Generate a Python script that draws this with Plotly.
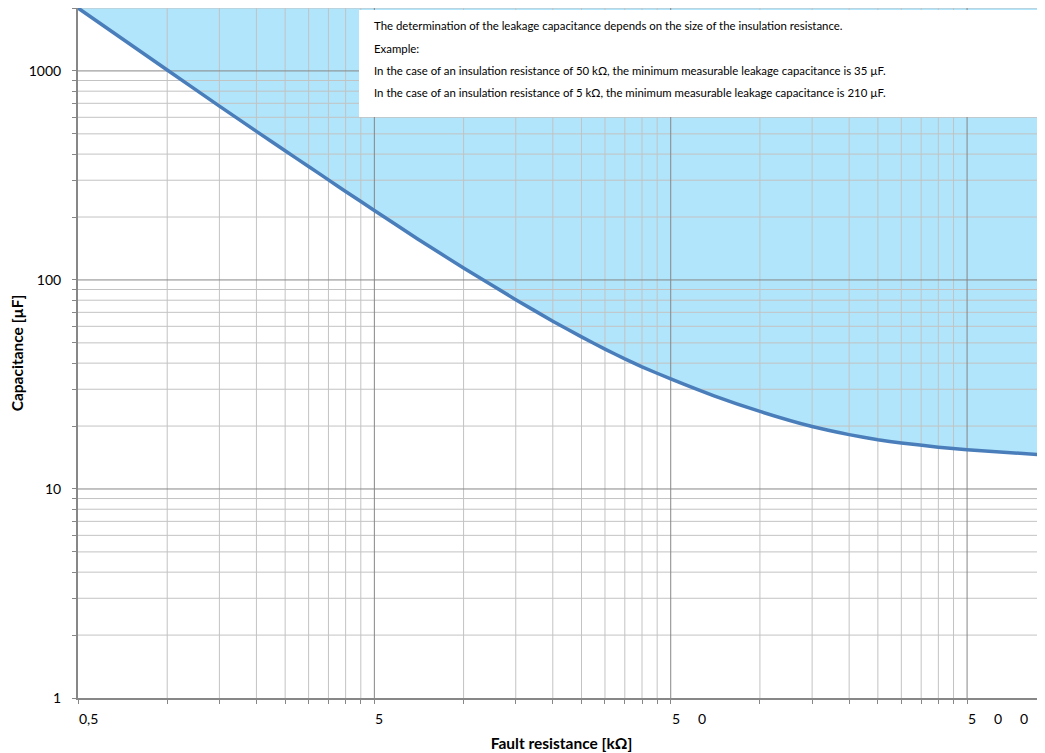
import math
import plotly.graph_objects as go

# ---- data ----
fault_resistance_kohm = [0.5, 1, 1.5, 2, 2.5, 3, 3.5, 4, 5, 7, 10, 15, 20, 25, 30, 35, 40, 50,
                         70, 100, 150, 200, 250, 300, 400, 500, 1000]
capacitance_uF = [2000, 1010, 679, 514, 415, 349, 301, 265, 215, 157, 114, 80.5, 63.5, 53.4,
                  46.7, 41.9, 38.4, 33.6, 27.9, 23.5, 19.9, 18.2, 17.2, 16.6, 15.85, 15.4, 14.4]

x_major_ticks = [0.5, 5, 50, 500]
x_major_labels = ["0,5", "5", "5\u00a0\u00a0\u00a0\u00a0\u00a00", "5\u00a0\u00a0\u00a0\u00a0\u00a00\u00a0\u00a0\u00a0\u00a0\u00a00"]
x_minor_ticks = [1, 1.5, 2, 2.5, 3, 3.5, 4, 4.5,
                 10, 15, 20, 25, 30, 35, 40, 45,
                 100, 150, 200, 250, 300, 350, 400, 450]
y_major_ticks = [1, 10, 100, 1000]
y_major_labels = ["1", "10", "100", "1000"]
y_minor_ticks = [2, 3, 4, 5, 6, 7, 8, 9,
                 20, 30, 40, 50, 60, 70, 80, 90,
                 200, 300, 400, 500, 600, 700, 800, 900, 2000]

x_min, x_max = 0.5, 916
y_min, y_max = 1, 2000

note_lines = [
    "The determination of the leakage capacitance depends on the size of the insulation resistance.",
    "Example:",
    "In the case of an insulation resistance of 50 k\u03a9, the minimum measurable leakage capacitance is 35 \u00b5F.",
    "In the case of an insulation resistance of 5 k\u03a9, the minimum measurable leakage capacitance is 210 \u00b5F.",
]

x_title = "Fault resistance [k\u03a9]"
y_title = "Capacitance [\u00b5F]"

# ---- styling ----
CURVE = "#4a7ebb"
FILL = "#b0e5fb"
MINOR_GRID = "#c3c3c3"
MAJOR_GRID = "#878787"
AXIS = "#878787"
FONT = "Lato"

# the page body has an 8px margin, so the figure is sized to end at the window edge
FIG_W, FIG_H = 1037, 745
M_L, M_R, M_T, M_B = 70, 0, 0, 55
PLOT_W = FIG_W - M_L - M_R
PLOT_H = FIG_H - M_T - M_B

fig = go.Figure()

# top boundary of the shaded region
fig.add_trace(go.Scatter(x=fault_resistance_kohm, y=[y_max] * len(fault_resistance_kohm),
                         mode="lines", line=dict(width=0), hoverinfo="skip", showlegend=False))
# shaded area above the curve
fig.add_trace(go.Scatter(x=fault_resistance_kohm, y=capacitance_uF, mode="lines",
                         line=dict(width=0, shape="spline", smoothing=0.4),
                         fill="tonexty", fillcolor=FILL, hoverinfo="skip", showlegend=False))


def vlines(vals):
    xs, ys = [], []
    for v in vals:
        xs += [v, v, None]
        ys += [y_min, y_max * 2, None]
    return xs, ys


def hlines(vals):
    xs, ys = [], []
    for v in vals:
        xs += [x_min, x_max * 2, None]
        ys += [v, v, None]
    return xs, ys


for vals, fn, col in [(x_minor_ticks, vlines, MINOR_GRID), (y_minor_ticks, hlines, MINOR_GRID),
                      (x_major_ticks[1:], vlines, MAJOR_GRID), (y_major_ticks[1:], hlines, MAJOR_GRID)]:
    xs, ys = fn(vals)
    fig.add_trace(go.Scatter(x=xs, y=ys, mode="lines", line=dict(color=col, width=1),
                             hoverinfo="skip", showlegend=False))

# the curve
fig.add_trace(go.Scatter(x=fault_resistance_kohm, y=capacitance_uF, mode="lines",
                         line=dict(color=CURVE, width=3.5, shape="spline", smoothing=0.4),
                         showlegend=False))

fig.update_xaxes(type="log", range=[math.log10(x_min), math.log10(x_max)],
                 showgrid=False, zeroline=False,
                 showline=True, linecolor=AXIS, linewidth=2,
                 tickvals=x_major_ticks, ticktext=x_major_labels, showticklabels=False,
                 ticks="outside", ticklen=4, tickcolor=AXIS, tickwidth=1,
                 minor=dict(tickvals=x_minor_ticks, ticks="outside", ticklen=4,
                            tickcolor=AXIS, showgrid=False),
                 title=dict(text="<b>" + x_title + "</b>", font=dict(size=15.5, color="#000000", family=FONT),
                            standoff=35),
                 automargin=False)
fig.update_yaxes(type="log", range=[math.log10(y_min), math.log10(y_max)],
                 showgrid=False, zeroline=False,
                 showline=True, linecolor=AXIS, linewidth=2,
                 tickvals=y_major_ticks, ticktext=y_major_labels,
                 ticks="outside", ticklen=4, tickcolor=AXIS, tickwidth=1,
                 ticklabelstandoff=8,
                 tickfont=dict(size=14, color="#000000", family=FONT),
                 minor=dict(tickvals=y_minor_ticks, ticks="outside", ticklen=4,
                            tickcolor=AXIS, showgrid=False),
                 title=dict(text="<b>" + y_title + "</b>", font=dict(size=15.5, color="#000000", family=FONT),
                            standoff=5),
                 automargin=False)

# x tick labels (left-aligned at their ticks, as in the reference)
for v, lab in zip(x_major_ticks, x_major_labels):
    fig.add_annotation(x=math.log10(v), y=-0.029, xref="x", yref="paper", text=lab,
                       showarrow=False, xanchor="left", yanchor="middle", xshift=-1,
                       font=dict(size=14, color="#000000", family=FONT))

# note box (coordinates measured from the plot's bottom-left corner)
fig.add_shape(type="rect", xref="paper", yref="paper", layer="above",
              x0=281 / PLOT_W, x1=1.05, y0=(PLOT_H - 109) / PLOT_H, y1=(PLOT_H - 2) / PLOT_H,
              fillcolor="#ffffff", line=dict(width=0))
for i, line in enumerate(note_lines):
    yc = 18 + i * 22.3
    fig.add_annotation(x=294 / PLOT_W, y=(PLOT_H - yc) / PLOT_H, xref="paper", yref="paper",
                       text=line, showarrow=False, xanchor="left", yanchor="middle",
                       font=dict(size=11.4, color="#000000", family=FONT))

fig.update_layout(width=FIG_W, height=FIG_H,
                  margin=dict(l=M_L, r=M_R, t=M_T, b=M_B, autoexpand=False),
                  paper_bgcolor="#ffffff", plot_bgcolor="#ffffff",
                  font=dict(family=FONT, color="#000000"))

fig.write_html("out.html")
